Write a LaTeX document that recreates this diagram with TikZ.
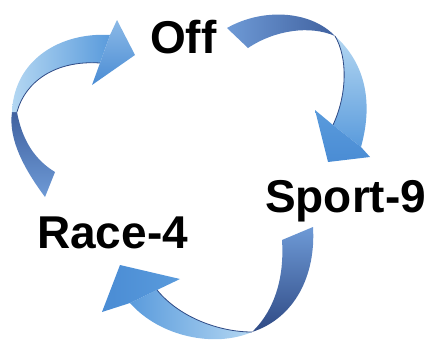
\documentclass[tikz,border=0pt]{standalone}
\usepackage{fontspec}
\setmainfont{Liberation Sans}
\definecolor{alight}{HTML}{B4D7F2}
\definecolor{amid}{HTML}{5A9BDC}
\definecolor{ahead}{HTML}{4A8CD4}
\definecolor{adark}{HTML}{40619F}
\definecolor{adarker}{HTML}{2F4A85}
\definecolor{asoft}{HTML}{6E9AD6}
\tikzset{
  lbl/.style={anchor=base west, inner sep=0pt, font=\fontsize{46}{50}\selectfont\bfseries, text=black},
}
\begin{document}
\begin{tikzpicture}[x=1pt,y=-1pt]
\useasboundingbox (0,0) rectangle (432,343);
% ---------- arrow 1 (Race-4 -> Off) ----------
\path[top color=adark, bottom color=asoft]
  (45,197) .. controls (25,170) and (8,140) .. (12,112)
  -- (17,112) .. controls (22,140) and (35,160) .. (55,172) -- cycle;
\path[left color=alight, right color=amid]
  (12,112) .. controls (14,60) and (60,32) .. (110,35)
  -- (100,63) .. controls (55,60) and (25,82) .. (17,112) -- cycle;
\draw[adarker, line width=0.8pt] (100,63) .. controls (55,60) and (25,82) .. (17,112);
\path[top color=amid!70!white, bottom color=ahead]
  (110,35) -- (117,20) -- (135,55) -- (92,85) -- (100,63) -- cycle;
% ---------- arrow 2 (Off -> Sport-9) ----------
\path[left color=asoft, right color=adark]
  (227,28) .. controls (262,8) and (310,10) .. (335,36)
  .. controls (310,25) and (275,30) .. (248,48) -- cycle;
\path[top color=alight, bottom color=amid]
  (335,36) .. controls (364,62) and (374,100) .. (361,147)
  -- (333,125) .. controls (347,95) and (348,58) .. (335,36) -- cycle;
\draw[adarker, line width=0.8pt] (333,125) .. controls (347,95) and (348,58) .. (335,36);
\path[top color=amid, bottom color=ahead]
  (361,147) -- (370,157) -- (328,162) -- (315,110) -- (333,125) -- cycle;
% ---------- arrow 3 (Sport-9 -> Race-4) ----------
\path[top color=asoft, bottom color=adarker]
  (313,227) .. controls (316,275) and (295,318) .. (252,332)
  .. controls (270,315) and (285,285) .. (282,240) -- cycle;
\path[left color=amid, right color=alight]
  (252,332) .. controls (215,348) and (160,337) .. (130,303)
  -- (157,290) .. controls (180,318) and (220,332) .. (252,332) -- cycle;
\draw[adarker, line width=0.8pt] (157,290) .. controls (180,318) and (220,332) .. (252,332);
\path[left color=ahead, right color=amid]
  (130,303) -- (102,312) -- (120,265) -- (180,279) -- (157,290) -- cycle;
% ---------- labels ----------
\node[lbl] (off) at (150,53) {Off};
\node[lbl] (sport) at (265,212) {Sport-9};
\node[lbl] (race) at (37,248) {Race-4};
\end{tikzpicture}
\end{document}
